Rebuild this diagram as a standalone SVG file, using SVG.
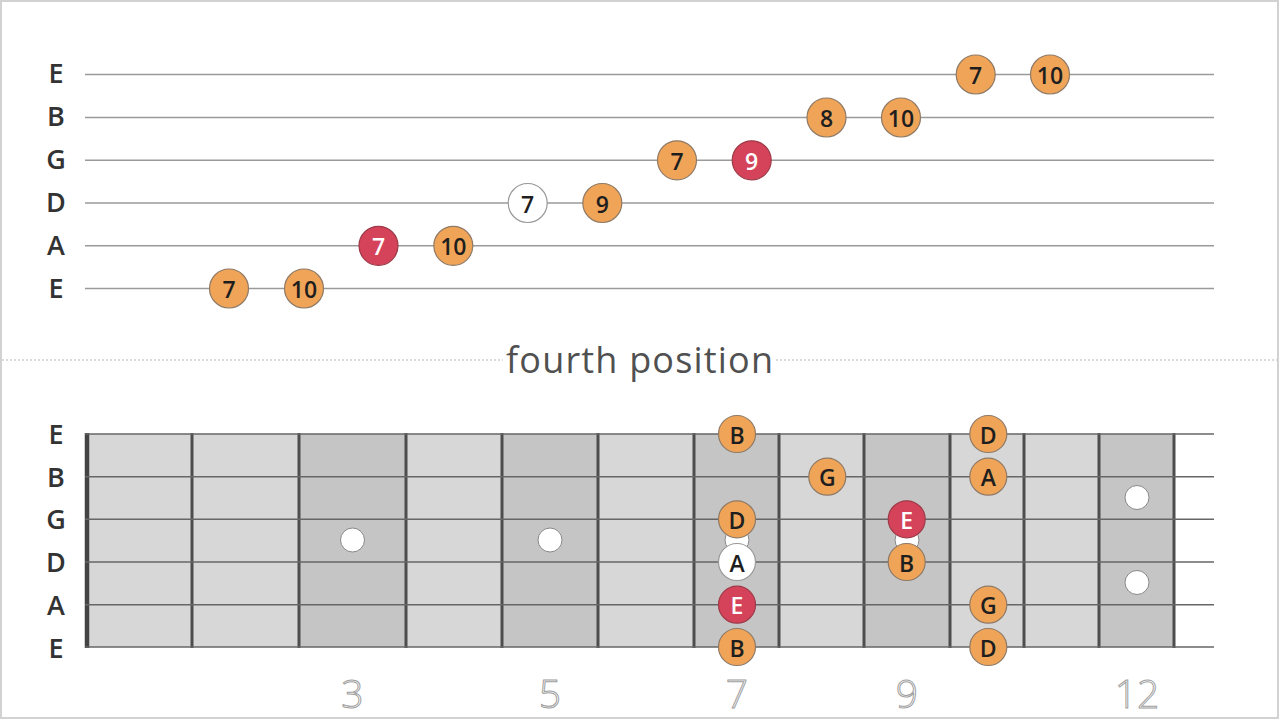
<svg xmlns="http://www.w3.org/2000/svg" width="1280" height="720" viewBox="0 0 1280 720">
<style>
.lbl{font-family:"Open Sans","Liberation Sans",sans-serif;font-size:27px;font-weight:600;fill:#333;text-anchor:middle;dominant-baseline:central}
.tab{stroke:#9a9a9a;stroke-width:1.6}
.str{stroke:#666;stroke-width:1.5}
.fret{stroke:#4d4d4d;stroke-width:3}
.lt{fill:#d7d7d7}
.dk{fill:#c5c5c5}
.inlay{fill:#fff;stroke:#888;stroke-width:1}
.o{fill:#f0a458;stroke:#8f7a66;stroke-width:1.2}
.r{fill:#d4435a;stroke:#9e3a48;stroke-width:1.2}
.w{fill:#fff;stroke:#999;stroke-width:1.2}
.t{font-family:"Open Sans","Liberation Sans",sans-serif;font-size:23px;font-weight:600;fill:#1e1e1e;text-anchor:middle;dominant-baseline:central}
.l{font-size:23px}
.tw{fill:#fff}
.num{font-family:"Open Sans","Liberation Sans",sans-serif;font-size:39px;font-weight:300;fill:#fff;stroke:#a0a0a0;stroke-width:1;text-anchor:middle}
</style>
<rect x="0" y="0" width="1280" height="720" fill="#fff"/>
<rect x="1" y="1" width="1277" height="717" fill="none" stroke="#d2d2d2" stroke-width="2"/>

<g id="tab-labels">
<text class="lbl" x="56" y="72">E</text>
<text class="lbl" x="56" y="115">B</text>
<text class="lbl" x="56" y="158">G</text>
<text class="lbl" x="56" y="201">D</text>
<text class="lbl" x="56" y="244">A</text>
<text class="lbl" x="56" y="287">E</text>
</g>
<g id="tab-strings">
<line class="tab" x1="85" y1="74.5" x2="1214" y2="74.5"/>
<line class="tab" x1="85" y1="117.5" x2="1214" y2="117.5"/>
<line class="tab" x1="85" y1="160.3" x2="1214" y2="160.3"/>
<line class="tab" x1="85" y1="203" x2="1214" y2="203"/>
<line class="tab" x1="85" y1="245.8" x2="1214" y2="245.8"/>
<line class="tab" x1="85" y1="288.5" x2="1214" y2="288.5"/>
</g>
<g id="tab-notes">
<g id="t1"><circle class="o" cx="229" cy="288.5" r="19.5"/><text class="t" x="229" y="289">7</text></g>
<g id="t2"><circle class="o" cx="304" cy="288.5" r="19.5"/><text class="t" x="304" y="289">10</text></g>
<g id="t3"><circle class="r" cx="378.5" cy="245.8" r="19.5"/><text class="t tw" x="378.5" y="246">7</text></g>
<g id="t4"><circle class="o" cx="453.3" cy="245.8" r="19.5"/><text class="t" x="453.3" y="246">10</text></g>
<g id="t5"><circle class="w" cx="527.7" cy="203" r="19.5"/><text class="t" x="527.7" y="203.5">7</text></g>
<g id="t6"><circle class="o" cx="602.3" cy="203" r="19.5"/><text class="t" x="602.3" y="203.5">9</text></g>
<g id="t7"><circle class="o" cx="677" cy="160.3" r="19.5"/><text class="t" x="677" y="160.8">7</text></g>
<g id="t8"><circle class="r" cx="751.7" cy="160.3" r="19.5"/><text class="t tw" x="751.7" y="160.8">9</text></g>
<g id="t9"><circle class="o" cx="826.5" cy="117.5" r="19.5"/><text class="t" x="826.5" y="118">8</text></g>
<g id="t10"><circle class="o" cx="901" cy="117.5" r="19.5"/><text class="t" x="901" y="118">10</text></g>
<g id="t11"><circle class="o" cx="975.7" cy="74.5" r="19.5"/><text class="t" x="975.7" y="75">7</text></g>
<g id="t12"><circle class="o" cx="1050" cy="74.5" r="19.5"/><text class="t" x="1050" y="75">10</text></g>
</g>

<g id="separator">
<line x1="2" y1="360" x2="503" y2="360" stroke="#b5b5b5" stroke-width="1" stroke-dasharray="2,2"/>
<line x1="776" y1="360" x2="1277" y2="360" stroke="#b5b5b5" stroke-width="1" stroke-dasharray="2,2"/>
<text x="506" y="373" font-family="'Open Sans','Liberation Sans',sans-serif" font-size="36" fill="#505050" textLength="267" lengthAdjust="spacing">fourth position</text>
</g>

<g id="fretboard">
<rect class="lt" x="87" y="434" width="105" height="213"/>
<rect class="lt" x="192" y="434" width="107" height="213"/>
<rect class="dk" x="299" y="434" width="107" height="213"/>
<rect class="lt" x="406" y="434" width="96" height="213"/>
<rect class="dk" x="502" y="434" width="96" height="213"/>
<rect class="lt" x="598" y="434" width="96" height="213"/>
<rect class="dk" x="694" y="434" width="85" height="213"/>
<rect class="lt" x="779" y="434" width="85" height="213"/>
<rect class="dk" x="864" y="434" width="86" height="213"/>
<rect class="lt" x="950" y="434" width="74" height="213"/>
<rect class="lt" x="1024" y="434" width="75" height="213"/>
<rect class="dk" x="1099" y="434" width="75" height="213"/>
</g>
<g id="inlays">
<circle class="inlay" cx="352.5" cy="540" r="12"/>
<circle class="inlay" cx="550" cy="540" r="12"/>
<circle class="inlay" cx="737" cy="540" r="12"/>
<circle class="inlay" cx="907" cy="540" r="12"/>
<circle class="inlay" cx="1137" cy="497.5" r="12"/>
<circle class="inlay" cx="1137" cy="582.5" r="12"/>
</g>
<g id="frets">
<line x1="87" y1="433" x2="87" y2="648" stroke="#444" stroke-width="4.5"/>
<line class="fret" x1="192" y1="433" x2="192" y2="648"/>
<line class="fret" x1="299" y1="433" x2="299" y2="648"/>
<line class="fret" x1="406" y1="433" x2="406" y2="648"/>
<line class="fret" x1="502" y1="433" x2="502" y2="648"/>
<line class="fret" x1="598" y1="433" x2="598" y2="648"/>
<line class="fret" x1="694" y1="433" x2="694" y2="648"/>
<line class="fret" x1="779" y1="433" x2="779" y2="648"/>
<line class="fret" x1="864" y1="433" x2="864" y2="648"/>
<line class="fret" x1="950" y1="433" x2="950" y2="648"/>
<line class="fret" x1="1024" y1="433" x2="1024" y2="648"/>
<line class="fret" x1="1099" y1="433" x2="1099" y2="648"/>
<line class="fret" x1="1174" y1="433" x2="1174" y2="648"/>
</g>
<g id="board-strings">
<line class="str" x1="85" y1="434" x2="1214" y2="434"/>
<line class="str" x1="85" y1="476.7" x2="1214" y2="476.7"/>
<line class="str" x1="85" y1="519.3" x2="1214" y2="519.3"/>
<line class="str" x1="85" y1="562" x2="1214" y2="562"/>
<line class="str" x1="85" y1="604.7" x2="1214" y2="604.7"/>
<line class="str" x1="85" y1="647" x2="1214" y2="647"/>
</g>
<g id="board-labels">
<text class="lbl" x="56" y="433">E</text>
<text class="lbl" x="56" y="476">B</text>
<text class="lbl" x="56" y="518">G</text>
<text class="lbl" x="56" y="561">D</text>
<text class="lbl" x="56" y="604">A</text>
<text class="lbl" x="56" y="647">E</text>
</g>
<g id="board-notes">
<g id="n1"><circle class="o" cx="737" cy="434" r="18.5"/><text class="t l" x="737" y="434.5">B</text></g>
<g id="n2"><circle class="o" cx="737" cy="519.3" r="18.5"/><text class="t l" x="737" y="519.8">D</text></g>
<g id="n3"><circle class="w" cx="737" cy="562" r="18.5"/><text class="t l" x="737" y="562.5">A</text></g>
<g id="n4"><circle class="r" cx="737" cy="604.7" r="18.5"/><text class="t l tw" x="737" y="605.2">E</text></g>
<g id="n5"><circle class="o" cx="737" cy="647" r="18.5"/><text class="t l" x="737" y="647.5">B</text></g>
<g id="n6"><circle class="o" cx="827.3" cy="476.7" r="18.5"/><text class="t l" x="827.3" y="477.2">G</text></g>
<g id="n7"><circle class="r" cx="906.7" cy="519.3" r="18.5"/><text class="t l tw" x="906.7" y="519.8">E</text></g>
<g id="n8"><circle class="o" cx="906.7" cy="562" r="18.5"/><text class="t l" x="906.7" y="562.5">B</text></g>
<g id="n9"><circle class="o" cx="988.3" cy="434" r="18.5"/><text class="t l" x="988.3" y="434.5">D</text></g>
<g id="n10"><circle class="o" cx="988.3" cy="476.7" r="18.5"/><text class="t l" x="988.3" y="477.2">A</text></g>
<g id="n11"><circle class="o" cx="988.3" cy="604.7" r="18.5"/><text class="t l" x="988.3" y="605.2">G</text></g>
<g id="n12"><circle class="o" cx="988.3" cy="647" r="18.5"/><text class="t l" x="988.3" y="647.5">D</text></g>
</g>
<g id="fret-numbers">
<text class="num" x="352.5" y="708">3</text>
<text class="num" x="550" y="708">5</text>
<text class="num" x="737" y="708">7</text>
<text class="num" x="907" y="708">9</text>
<text class="num" x="1137" y="708">12</text>
</g>
</svg>
